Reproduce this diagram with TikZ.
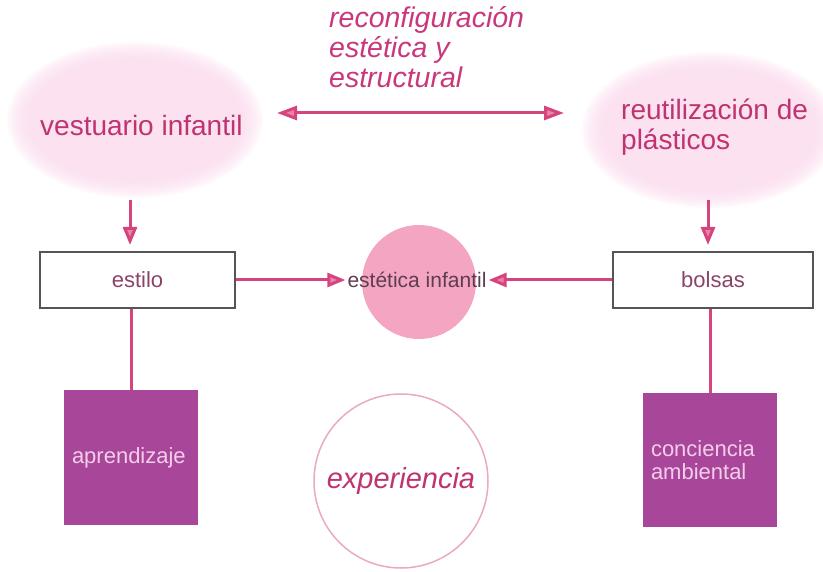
\documentclass[tikz,border=0pt]{standalone}
\usepackage{fontspec}
\setmainfont{Liberation Sans}
\usetikzlibrary{arrows.meta,shapes.geometric,calc}
\definecolor{blobpink}{HTML}{FBDCEE}
\definecolor{headtxt}{HTML}{BE3370}
\definecolor{toptxt}{HTML}{C9377C}
\definecolor{arrowline}{HTML}{D6447E}
\definecolor{arrowfill}{HTML}{E985AA}
\definecolor{boxline}{HTML}{555555}
\definecolor{boxtxt}{HTML}{8A4468}
\definecolor{circfill}{HTML}{F3A5C1}
\definecolor{sqfill}{HTML}{A8479A}
\definecolor{sqtxt}{HTML}{F4CDEB}
\definecolor{ringline}{HTML}{E9A9C1}
\definecolor{midtxt}{HTML}{5E3D50}
\tikzset{
  headtext/.style={font=\fontsize{28}{30}\selectfont, text=headtxt, inner sep=0pt, align=left},
  whitebox/.style={draw=boxline, line width=2pt, fill=white, minimum height=56pt, inner sep=0pt, font=\fontsize{22}{24}\selectfont, text=boxtxt},
  purplesq/.style={fill=sqfill, minimum width=134pt, minimum height=134pt, inner sep=0pt, text width=118pt, align=left, font=\fontsize{22}{23}\selectfont, text=sqtxt},
  conn/.style={draw=arrowline, line width=3pt},
  arr/.style={conn, -{Triangle[length=18pt,width=14pt,fill=arrowfill]}},
  darr/.style={conn, {Triangle[length=20pt,width=14pt,fill=arrowfill]}-{Triangle[length=20pt,width=14pt,fill=arrowfill]}}
}
\begin{document}
\begin{tikzpicture}[x=1pt,y=-1pt]
\useasboundingbox (0,0) rectangle (823,572);
% soft blobs
\foreach \i in {0,...,11}{
  \fill[blobpink, opacity=0.15] (135,120) ellipse ({128-\i*2} and {78-\i*1.6});
  \fill[blobpink, opacity=0.15] (710,130) ellipse ({128-\i*2} and {78-\i*1.6});
}
% top labels
\node[headtext, anchor=west] (vest) at (40,125) {vestuario infantil};
\node[headtext, anchor=west] (reut) at (621,127) {reutilización de\\plásticos};
\node[font=\fontsize{28.5}{30}\selectfont\itshape, text=toptxt, inner sep=0pt, align=left, anchor=north west] (reconf) at (329,6) {reconfiguración\\estética y\\estructural};
\coordinate (dl) at (277,113);
\coordinate (dr) at (564,113);
\draw[darr] (dl) -- (dr);
% middle row
\node[whitebox, minimum width=195pt] (estilo) at (137.5,280) {estilo};
\node[whitebox, minimum width=200pt] (bolsas) at (713,280) {bolsas};
\fill[circfill] (419,282) circle (57);
\node[font=\fontsize{21}{24}\selectfont, text=midtxt, inner sep=0pt] (estet) at (417,280) {estética infantil};
\coordinate (vl) at (130,200);
\coordinate (vr) at (708,200);
\draw[arr, shorten >=6pt] (vl) -- (vl |- estilo.north);
\draw[arr, shorten >=6pt] (vr) -- (vr |- bolsas.north);
\draw[arr] (estilo.east) -- ([xshift=-2pt]estet.west |- estilo.east);
\draw[arr] (bolsas.west) -- ([xshift=2pt]estet.east |- bolsas.west);
% bottom row
\node[purplesq] (aprend) at (131,457.5) {aprendizaje};
\node[purplesq] (conc) at (710,460) {conciencia\\ambiental};
\draw[conn] (aprend.north) -- (aprend.north |- estilo.south);
\draw[conn] (conc.north) -- (conc.north |- bolsas.south);
\node[circle, draw=ringline, line width=1.5pt, minimum size=174pt, inner sep=0pt, font=\fontsize{29}{30}\selectfont\itshape, text=headtxt] (exper) at (401,481) {experiencia};
\end{tikzpicture}
\end{document}
